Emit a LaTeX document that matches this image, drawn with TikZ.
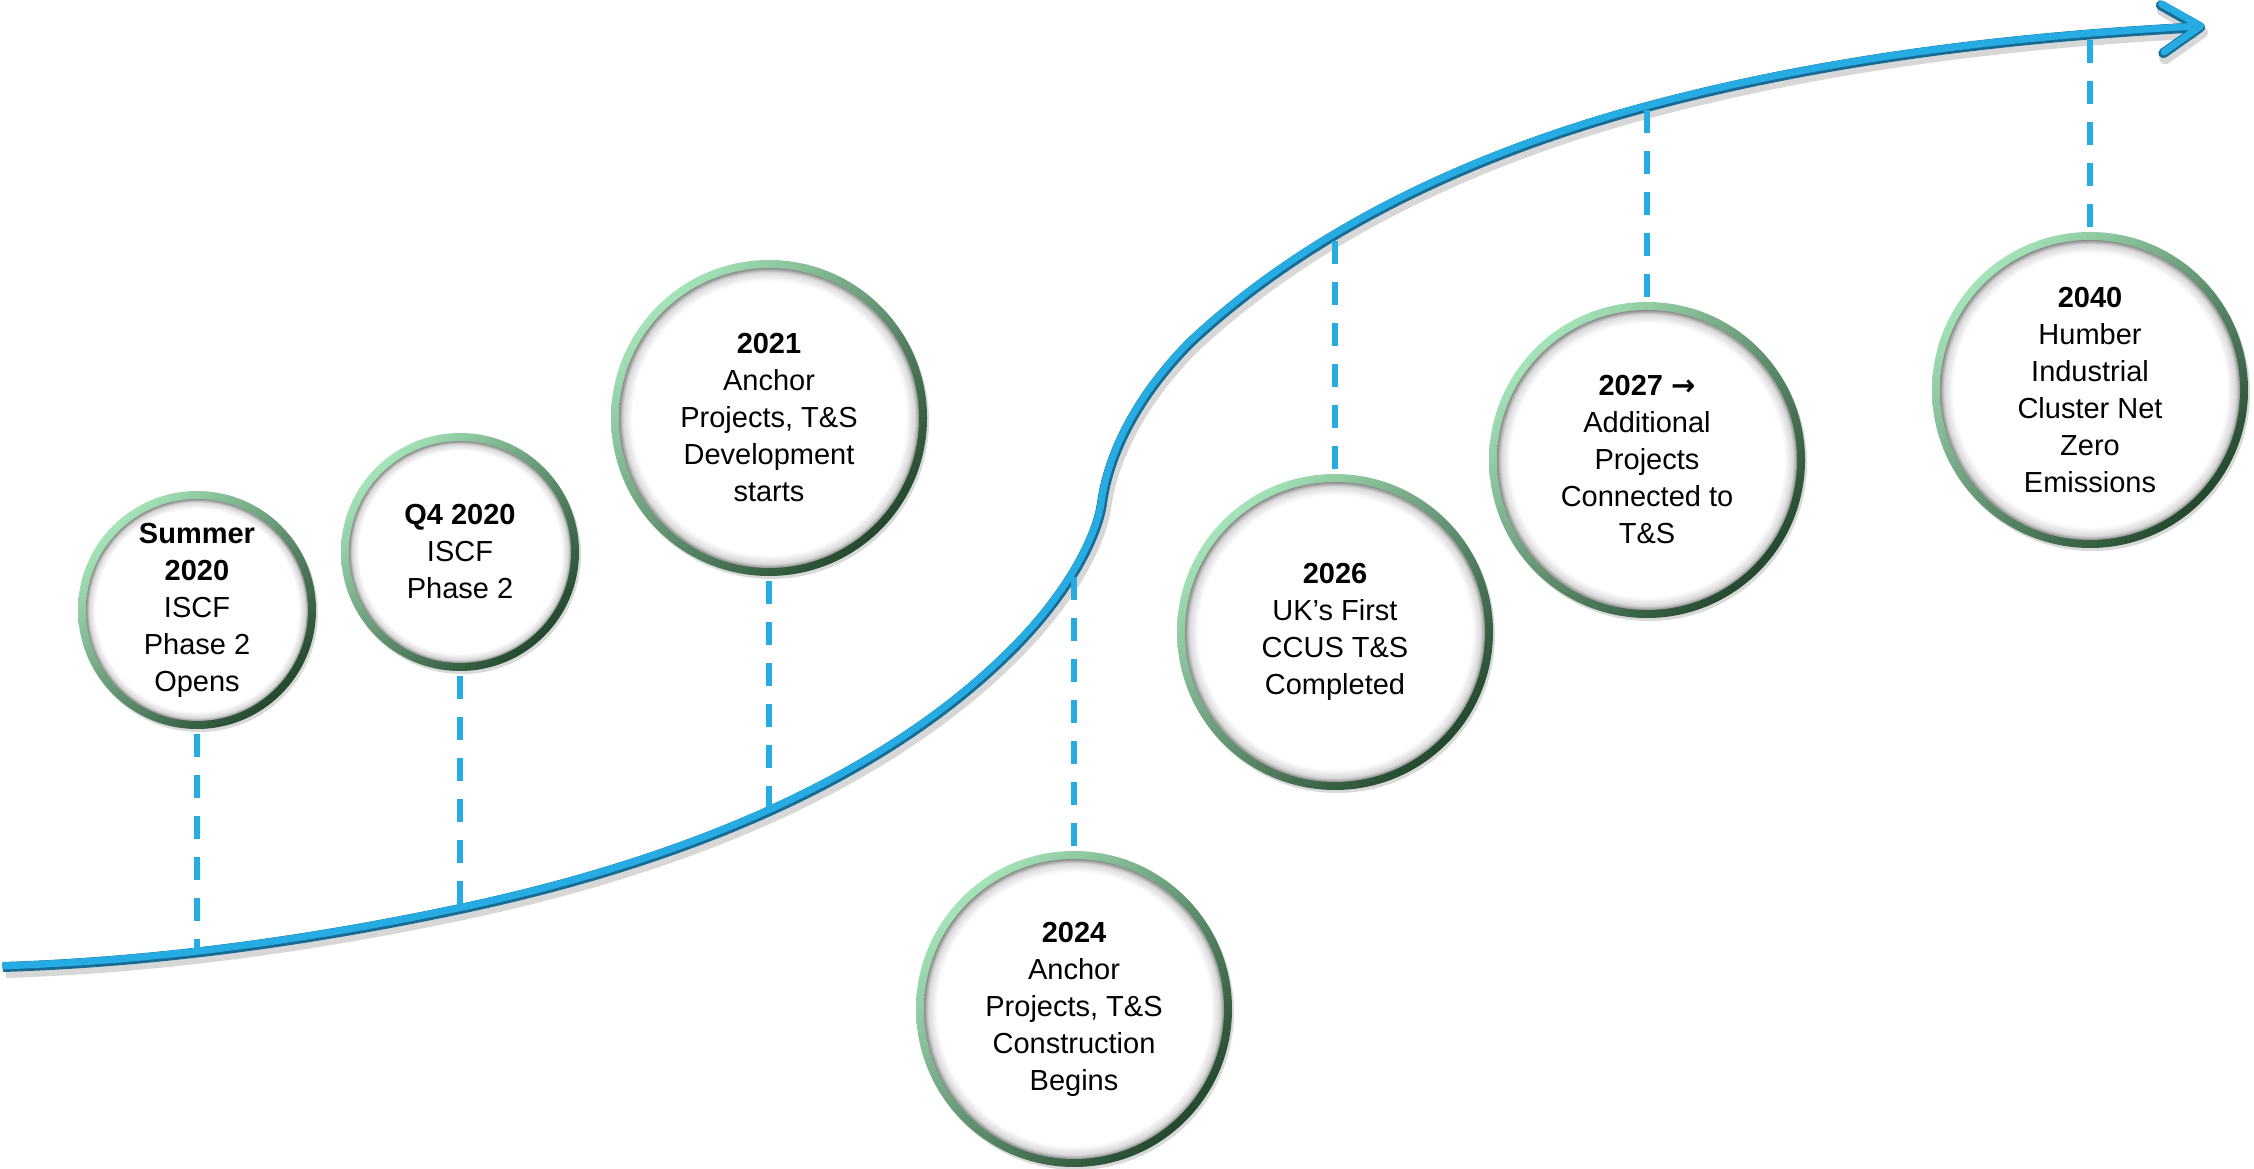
\documentclass[tikz,border=0pt]{standalone}
\usepackage{fontspec}
\setmainfont{Liberation Sans}
\newfontfamily\symfont{DejaVu Sans}
\usetikzlibrary{arrows.meta,shadows}
\definecolor{lineblue}{RGB}{38,171,226}
\definecolor{linedark}{RGB}{22,108,148}
\definecolor{ringlight}{RGB}{165,228,185}
\definecolor{ringmid}{RGB}{95,165,115}
\definecolor{ringdark}{RGB}{35,72,45}
\pgfdeclareradialshading{innerglow}{\pgfpoint{0bp}{0bp}}{color(0bp)=(white); color(22.8bp)=(white); color(24.3bp)=(black!15); color(25bp)=(black!45); color(50bp)=(black!45)}
\tikzset{
  milestone/.style={circle, minimum size=#1, inner sep=0pt, align=center,
    font=\fontsize{29pt}{37pt}\selectfont,
    drop shadow={opacity=0.3, shadow xshift=2pt, shadow yshift=-3pt},
    path picture={
      \shade[top color=ringlight, middle color=ringmid, bottom color=ringdark, shading angle=45]
        (path picture bounding box.south west) rectangle (path picture bounding box.north east);
      \shade[shading=innerglow] (path picture bounding box.center) circle (0.5*#1-8pt);
    }},
  dashline/.style={lineblue, line width=6pt, dash pattern=on 23pt off 18pt, shorten <=5pt},
  timeline/.style={line width=#1, -{Straight Barb[length=38pt, width=48pt, round]}},
}
\newcommand\curvepath{(3,201) .. controls (157,206) and (309,227) .. (t2)
    .. controls (656,300.6) and (871,377) .. (1012,518)
    .. controls (1068,574) and (1097,630) .. (1102,665)
    .. controls (1110.5,725.4) and (1147.9,782.9) .. (1191,826)
    .. controls (1316,942.6) and (1482,1016.7) .. (t6)
    .. controls (1828.6,1109.7) and (2017.3,1131.2) .. (2205,1141)}
\begin{document}
\begin{tikzpicture}[x=1pt, y=1pt]
    \useasboundingbox (0,0) rectangle (2254,1168);
    \node [milestone=238pt] (s1) at (197,558) {\textbf{Summer}\\\textbf{2020}\\ISCF\\Phase 2\\Opens};
    \node [milestone=238pt] (s2) at (460,616) {\textbf{Q4 2020}\\ISCF\\Phase 2};
    \node [milestone=316pt] (s3) at (769,750) {\textbf{2021}\\Anchor\\Projects, T\&S\\Development\\starts};
    \node [milestone=316pt] (s4) at (1074,159) {\textbf{2024}\\Anchor\\Projects, T\&S\\Construction\\Begins};
    \node [milestone=316pt] (s5) at (1335,536) {\textbf{2026}\\UK’s First\\CCUS T\&S\\Completed};
    \node [milestone=316pt] (s6) at (1647,708) {\textbf{2027 {\symfont →}}\\Additional\\Projects\\Connected to\\T\&S};
    \node [milestone=316pt] (s7) at (2090,778) {\textbf{2040}\\Humber\\Industrial\\Cluster Net\\Zero\\Emissions};
    \coordinate (t1) at (197,215);
    \coordinate (t2) at (460,259);
    \coordinate (t3) at (769,356);
    \coordinate (t4) at (1074,596);
    \coordinate (t5) at (1335,933);
    \coordinate (t6) at (1647,1061);
    \coordinate (t7) at (2090,1133);
    \draw [timeline=12pt, black!35, opacity=0.45, transform canvas={xshift=3pt, yshift=-5pt}] \curvepath;
    \draw [timeline=10pt, linedark] \curvepath;
    \draw [timeline=7pt, lineblue, transform canvas={xshift=-0.8pt, yshift=1.2pt}] \curvepath;
    \path [dashline] (s1) edge (t1);
    \path [dashline] (s2) edge (t2);
    \path [dashline] (s3) edge (t3);
    \path [dashline] (s4) edge (t4);
    \path [dashline] (s5) edge (t5);
    \path [dashline] (s6) edge (t6);
    \path [dashline] (s7) edge (t7);
\end{tikzpicture}
\end{document}
